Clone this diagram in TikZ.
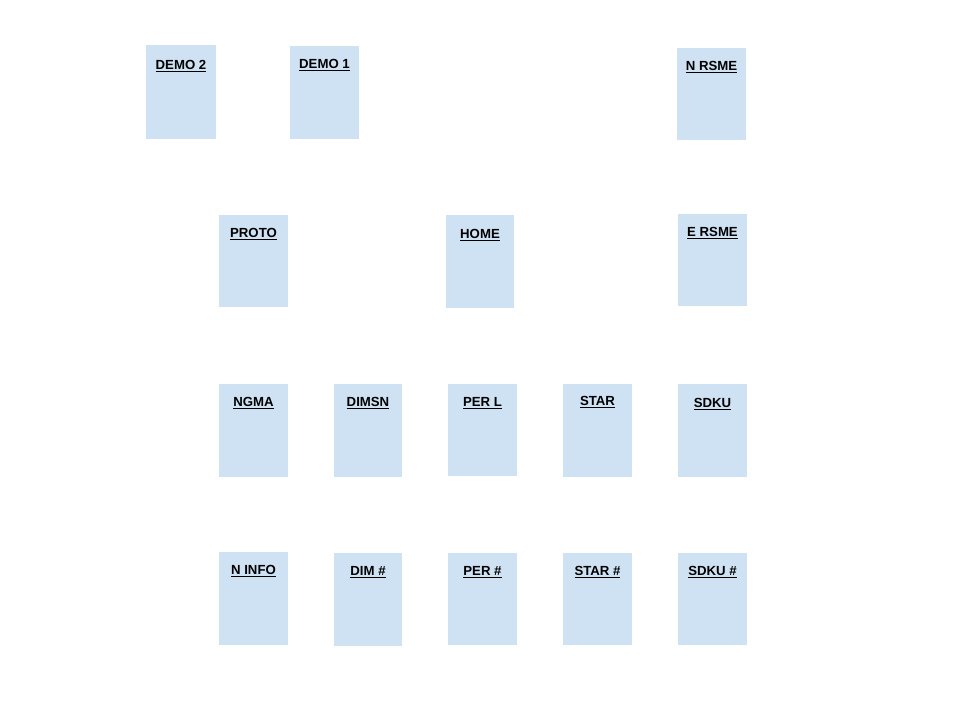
\documentclass[tikz,border=0pt]{standalone}
\usepackage{fontspec}
\setmainfont{Liberation Sans}
\definecolor{boxblue}{HTML}{CFE2F3}
\begin{document}
\begin{tikzpicture}[x=0.75pt,y=-0.75pt,
  box/.style={fill=boxblue,draw=none,inner sep=0pt,minimum width=51.75pt,minimum height=69.75pt},
  lbl/.style={font=\bfseries\fontsize{9.9}{11}\selectfont,inner sep=0pt,anchor=center}]
\useasboundingbox (0,0) rectangle (960,720);
\newcommand{\bx}[7]{% name, x1,y1,x2,y2, texty, text
  \node[box,minimum width={(#4-#2)*0.75pt},minimum height={(#5-#3)*0.75pt}] (#1) at ({(#2+#4)/2},{(#3+#5)/2}) {};
  \node[lbl] (#1t) at ({(#2+#4)/2},#6+2.5) {\underline{#7}};
}
\bx{demotwo}{146}{45}{216}{139}{64}{DEMO 2}
\bx{demoone}{290}{46}{359}{139}{63}{DEMO 1}
\bx{nrsme}{677}{48}{746}{140}{65}{N RSME}
\bx{proto}{219}{215}{288}{307}{232}{PROTO}
\bx{home}{446}{215}{514}{308}{233}{HOME}
\bx{ersme}{678}{214}{747}{306}{231}{E RSME}
\bx{ngma}{219}{384}{288}{477}{401}{NGMA}
\bx{dimsn}{334}{384}{402}{477}{401}{DIMSN}
\bx{perl}{448}{384}{517}{476}{401}{PER L}
\bx{star}{563}{384}{632}{477}{400}{STAR}
\bx{sdku}{678}{384}{747}{477}{402}{SDKU}
\bx{ninfo}{219}{552}{288}{645}{569}{N INFO}
\bx{dimnum}{334}{553}{402}{646}{570}{DIM \#}
\bx{pernum}{448}{553}{517}{645}{570}{PER \#}
\bx{starnum}{563}{553}{632}{645}{570}{STAR \#}
\bx{sdkunum}{678}{553}{747}{645}{570}{SDKU \#}
\end{tikzpicture}
\end{document}
